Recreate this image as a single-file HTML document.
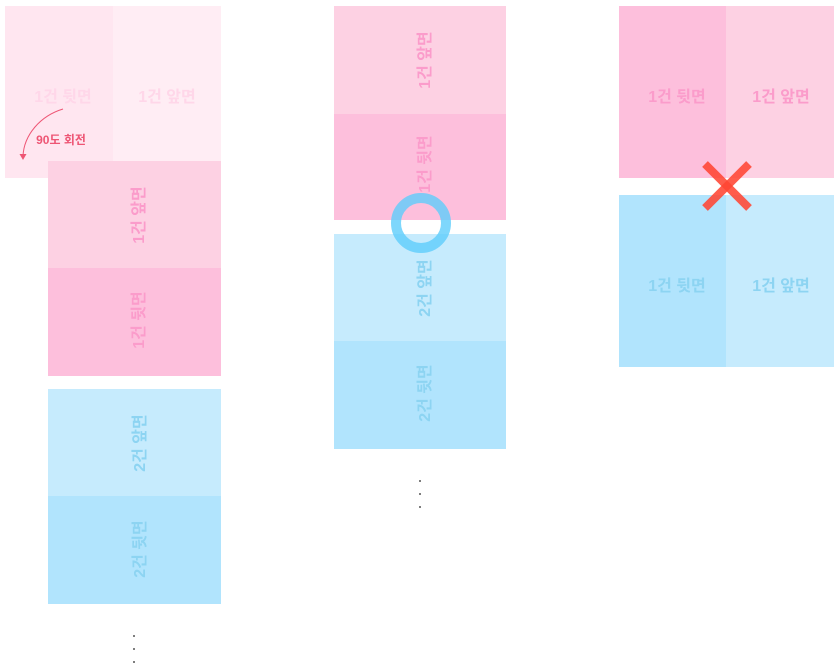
<!DOCTYPE html>
<html><head><meta charset="utf-8">
<style>
html,body{margin:0;padding:0;background:#fff;}
body{width:839px;height:672px;position:relative;overflow:hidden;font-family:"Liberation Sans","Noto Sans CJK KR",sans-serif;}
.b{position:absolute;}
.t{position:absolute;font-weight:bold;font-size:16px;line-height:1;white-space:nowrap;transform:translate(-50%,-50%);}
.r{transform:translate(-50%,-50%) rotate(-90deg);}
.pk{color:#fb9ccb;}
.bl{color:#8dd4f2;}
.pl{color:#ffd7e9;}
.dot{position:absolute;width:2px;height:2px;background:#555;border-radius:1px;}
</style></head><body>
<!-- Left column -->
<div class="b" style="left:5px;top:6px;width:108px;height:172px;background:#ffe6f0;"></div>
<div class="b" style="left:113px;top:6px;width:108px;height:172px;background:#ffedf4;"></div>
<div class="t pl" style="left:63px;top:98px;">1건 뒷면</div>
<div class="t pl" style="left:167px;top:98px;">1건 앞면</div>

<div class="b" style="left:48px;top:161px;width:173px;height:107px;background:#fdd1e3;"></div>
<div class="b" style="left:48px;top:268px;width:173px;height:108px;background:#fdbfdc;"></div>
<div class="t pk r" style="left:140px;top:215px;">1건 앞면</div>
<div class="t pk r" style="left:140px;top:320px;">1건 뒷면</div>

<div class="b" style="left:48px;top:389px;width:173px;height:107px;background:#c6ebfd;"></div>
<div class="b" style="left:48px;top:496px;width:173px;height:108px;background:#b1e4fd;"></div>
<div class="t bl r" style="left:141px;top:443px;">2건 앞면</div>
<div class="t bl r" style="left:141px;top:549px;">2건 뒷면</div>

<div class="dot" style="left:133px;top:635px;"></div>
<div class="dot" style="left:133px;top:648px;"></div>
<div class="dot" style="left:133px;top:661px;"></div>

<div class="t" style="left:61px;top:140px;font-size:12px;color:#ee5574;">90도 회전</div>

<!-- Middle column -->
<div class="b" style="left:334px;top:6px;width:172px;height:108px;background:#fdd1e3;"></div>
<div class="b" style="left:334px;top:114px;width:172px;height:106px;background:#fdbfdc;"></div>
<div class="t pk r" style="left:426px;top:60px;">1건 앞면</div>
<div class="t pk r" style="left:426px;top:164px;">1건 뒷면</div>

<div class="b" style="left:334px;top:234px;width:172px;height:107px;background:#c6ebfd;"></div>
<div class="b" style="left:334px;top:341px;width:172px;height:108px;background:#b1e4fd;"></div>
<div class="t bl r" style="left:426px;top:288px;">2건 앞면</div>
<div class="t bl r" style="left:426px;top:393px;">2건 뒷면</div>

<div class="dot" style="left:419px;top:480px;"></div>
<div class="dot" style="left:419px;top:493px;"></div>
<div class="dot" style="left:419px;top:506px;"></div>

<!-- Right column -->
<div class="b" style="left:619px;top:6px;width:107px;height:172px;background:#fdbfdc;"></div>
<div class="b" style="left:726px;top:6px;width:108px;height:172px;background:#fdd1e3;"></div>
<div class="t pk" style="left:677px;top:98px;">1건 뒷면</div>
<div class="t pk" style="left:781px;top:98px;">1건 앞면</div>

<div class="b" style="left:619px;top:195px;width:107px;height:172px;background:#b1e4fd;"></div>
<div class="b" style="left:726px;top:195px;width:108px;height:172px;background:#c6ebfd;"></div>
<div class="t bl" style="left:677px;top:287px;">1건 뒷면</div>
<div class="t bl" style="left:781px;top:287px;">1건 앞면</div>

<svg width="839" height="672" style="position:absolute;left:0;top:0;">
  <path d="M63,109 C40,116 24,135 23,156" fill="none" stroke="#ee5574" stroke-width="1"/>
  <path d="M19.5,154 L23,160 L26.5,154 Z" fill="#ee5574"/>
  <circle cx="421" cy="223" r="25" fill="none" stroke="#5ecdfb" stroke-opacity="0.8" stroke-width="10"/>
  <g stroke="#ff4533" stroke-opacity="0.88" stroke-width="8" stroke-linecap="butt">
    <line x1="705" y1="164" x2="749" y2="208"/>
    <line x1="749" y1="164" x2="705" y2="208"/>
  </g>
</svg>
</body></html>
